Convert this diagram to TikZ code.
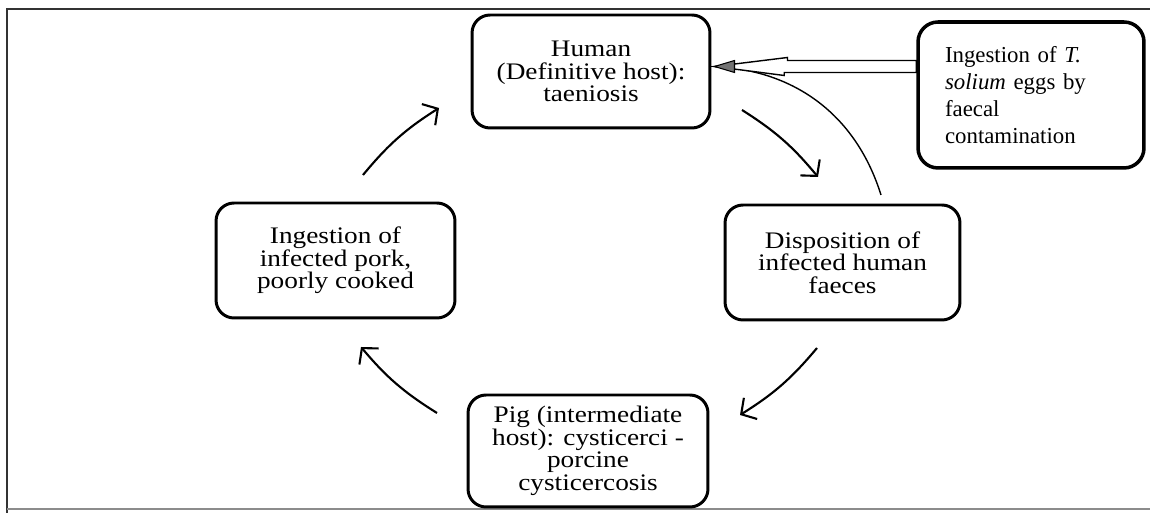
\documentclass[tikz,border=0pt]{standalone}
\usepackage{fontspec}
\setmainfont{Liberation Serif}
\newfontfamily\stretchfont[FakeStretch=1.15]{Liberation Serif}
\usetikzlibrary{arrows.meta}

\tikzstyle{cyclebox}=[rectangle, rounded corners=0.36cm, minimum width=4.76cm, minimum height=2.26cm, align=center, line width=1.7pt, draw=black, font=\stretchfont\fontsize{13.5}{12.8}\selectfont]
\tikzstyle{notebox}=[rectangle, rounded corners=0.4cm, minimum width=4.52cm, minimum height=2.92cm, text width=3.44cm, inner xsep=0.54cm, align=left, line width=2pt, draw=black, font=\fontsize{13}{15.3}\selectfont]
\tikzstyle{cycarrow}=[line width=1.2pt, -{Straight Barb[length=0.22cm, width=0.5cm]}]
\tikzstyle{frameline}=[line width=1.1pt, draw=black!80]

\begin{document}
\begin{tikzpicture}[x=0.02cm, y=0.02cm]
\useasboundingbox (0,0) rectangle (1150,513);
\draw[frameline](7,0)--(7,504)--(1150,504);
\draw[frameline, draw=black!45](7,4)--(1150,4);

\node(hu)[cyclebox] at (591,441.5){Human\\(Definitive host):\\taeniosis};
\node(di)[cyclebox, minimum width=4.7cm, minimum height=2.3cm] at (842.5,250.5){Disposition of\\infected human\\faeces};
\node(pg)[cyclebox, minimum width=4.8cm, minimum height=2.24cm] at (588,62){Pig (intermediate\\host): cysticerci -\\porcine\\cysticercosis};
\node(po)[cyclebox, minimum width=4.78cm, minimum height=2.3cm] at (335.5,252.5){Ingestion of\\infected pork,\\poorly cooked};
\node(eg)[notebox] at (1031,418){Ingestion of \textit{T.}\\\textit{solium} eggs by\\faecal\\contamination};

\coordinate(a1s) at (363,338);
\coordinate(a1e) at (439,405);
\coordinate(a2s) at (742,403);
\coordinate(a2e) at (818,336);
\coordinate(a3s) at (817,165);
\coordinate(a3e) at (740,98);
\coordinate(a4s) at (437,100);
\coordinate(a4e) at (361,166);
\coordinate(tip) at ([xshift=0.06cm, yshift=0.1cm]hu.east);
\coordinate(ts) at (881,318);

\draw[cycarrow](a1s) to[bend left=9] (a1e);
\draw[cycarrow](a2s) to[bend left=9] (a2e);
\draw[cycarrow](a3s) to[bend left=9] (a3e);
\draw[cycarrow](a4s) to[bend left=9] (a4e);

\draw[line width=0.8pt](ts) to[bend right=35] (tip);
\draw[line width=0.8pt, fill=white](tip)--++(73,9)--++(0,-3)--([yshift=0.12cm]eg.west |- tip)--([yshift=-0.12cm]eg.west |- tip)--++(-132,0)--++(0,-3)--cycle;
\filldraw[fill=black!55, draw=black, line width=0.6pt](tip)--++(20,6)--++(0,-12)--cycle;

\end{tikzpicture}
\end{document}
